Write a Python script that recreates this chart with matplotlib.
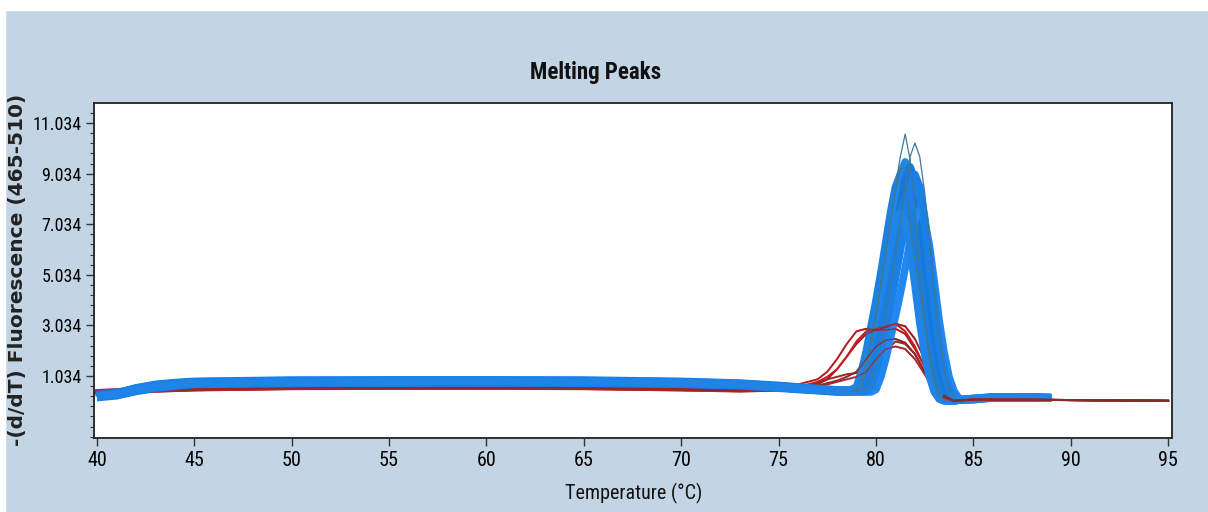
import matplotlib
matplotlib.use("Agg")
import matplotlib.pyplot as plt
from matplotlib.ticker import FixedLocator
import numpy as np

# ---------------- data ----------------
# blue curves: shared temperature grid = base part + peak part + tail part
T_base = [40, 41, 42, 43, 44, 45, 50, 55, 60, 65, 70, 73, 75, 76, 77, 78, 78.5, 78.75]
T_peak = [79, 79.25, 79.5, 79.75, 80, 80.25, 80.5, 80.75, 81, 81.25, 81.5, 81.75,
          82, 82.25, 82.5, 82.75, 83, 83.25, 83.5, 83.75, 84, 84.25, 84.5]
T_tail = [85, 86, 87, 88, 89]

blue_base = [
    [0.25, 0.35, 0.55, 0.68, 0.75, 0.80, 0.85, 0.85, 0.86, 0.85, 0.80, 0.74, 0.64, 0.58, 0.52, 0.48, 0.48, 0.50],
    [0.20, 0.30, 0.50, 0.62, 0.70, 0.76, 0.80, 0.81, 0.82, 0.81, 0.77, 0.70, 0.60, 0.55, 0.50, 0.45, 0.45, 0.45],
    [0.22, 0.28, 0.45, 0.58, 0.66, 0.72, 0.76, 0.77, 0.78, 0.77, 0.73, 0.68, 0.58, 0.52, 0.47, 0.42, 0.42, 0.42],
    [0.18, 0.25, 0.42, 0.55, 0.63, 0.70, 0.74, 0.75, 0.76, 0.75, 0.71, 0.65, 0.55, 0.50, 0.45, 0.40, 0.40, 0.40],
    [0.24, 0.32, 0.50, 0.64, 0.72, 0.78, 0.83, 0.84, 0.84, 0.83, 0.78, 0.72, 0.62, 0.56, 0.50, 0.44, 0.42, 0.40],
    [0.20, 0.28, 0.46, 0.60, 0.68, 0.74, 0.78, 0.79, 0.80, 0.79, 0.75, 0.69, 0.58, 0.52, 0.47, 0.41, 0.42, 0.44],
    [0.26, 0.36, 0.56, 0.70, 0.77, 0.82, 0.87, 0.88, 0.88, 0.87, 0.82, 0.75, 0.66, 0.60, 0.54, 0.48, 0.44, 0.42],
    [0.22, 0.30, 0.48, 0.60, 0.68, 0.74, 0.79, 0.80, 0.81, 0.80, 0.76, 0.70, 0.60, 0.54, 0.48, 0.46, 0.46, 0.48],
]
blue_peak = [
    [0.60, 1.20, 2.00, 3.00, 4.00, 5.10, 6.30, 7.50, 8.50, 9.00, 8.50, 7.30,
     5.60, 3.80, 2.30, 1.20, 0.50, 0.15, 0.05, 0.05, 0.05, 0.08, 0.10],
    [0.45, 0.65, 1.25, 2.10, 3.20, 4.20, 5.40, 6.65, 7.90, 9.00, 9.50, 9.00,
     7.70, 5.90, 4.00, 2.40, 1.25, 0.55, 0.15, 0.05, 0.05, 0.08, 0.10],
    [0.45, 0.45, 0.62, 1.25, 2.05, 3.10, 4.15, 5.30, 6.50, 7.75, 8.80, 9.30,
     8.80, 7.55, 5.80, 3.90, 2.40, 1.25, 0.50, 0.15, 0.05, 0.08, 0.10],
    [0.42, 0.42, 0.42, 0.58, 1.15, 1.90, 2.85, 3.80, 4.90, 6.00, 7.15, 8.10,
     8.60, 8.10, 7.00, 5.35, 3.60, 2.20, 1.15, 0.50, 0.15, 0.08, 0.10],
    [0.40, 0.40, 0.40, 0.40, 0.50, 1.00, 1.70, 2.55, 3.40, 4.30, 5.30, 6.35,
     7.20, 7.60, 7.20, 6.15, 4.70, 3.20, 1.95, 1.00, 0.45, 0.15, 0.10],
    [0.45, 0.55, 1.05, 1.80, 2.65, 3.55, 4.55, 5.60, 6.65, 7.55, 8.00, 7.55,
     6.50, 5.00, 3.40, 2.05, 1.05, 0.45, 0.15, 0.05, 0.05, 0.08, 0.10],
    [0.42, 0.42, 0.45, 0.60, 1.20, 2.00, 3.00, 4.00, 5.10, 6.30, 7.50, 8.50,
     9.00, 8.50, 7.30, 5.60, 3.80, 2.30, 1.20, 0.50, 0.15, 0.08, 0.10],
    [0.50, 1.00, 1.65, 2.50, 3.35, 4.25, 5.25, 6.25, 7.10, 7.50, 7.10, 6.10,
     4.65, 3.15, 1.90, 1.00, 0.40, 0.12, 0.05, 0.05, 0.05, 0.08, 0.10],
]
blue_tail = [
    [0.15, 0.20, 0.20, 0.20, 0.18],
    [0.14, 0.20, 0.20, 0.20, 0.18],
    [0.12, 0.18, 0.18, 0.18, 0.16],
    [0.10, 0.18, 0.18, 0.18, 0.16],
    [0.10, 0.18, 0.18, 0.18, 0.16],
    [0.10, 0.16, 0.16, 0.16, 0.15],
    [0.12, 0.20, 0.20, 0.20, 0.18],
    [0.12, 0.18, 0.18, 0.18, 0.16],
]

# thin dark outline curves (same peak grid)
thin_peak = [
    [0.45, 0.60, 1.20, 2.20, 3.40, 4.60, 5.90, 7.20, 8.50, 9.70, 10.60, 9.60,
     7.60, 5.30, 3.20, 1.70, 0.70, 0.20, 0.05, 0.05, 0.05, 0.08, 0.10],
    [0.42, 0.42, 0.50, 0.90, 1.50, 2.30, 3.40, 4.60, 5.80, 7.20, 8.50, 9.70,
     10.25, 9.70, 8.30, 6.40, 4.30, 2.60, 1.35, 0.55, 0.15, 0.08, 0.10],
    [0.50, 0.90, 1.60, 2.60, 3.60, 4.80, 6.00, 7.20, 8.30, 9.20, 9.30, 6.90,
     5.60, 4.40, 3.10, 1.90, 1.00, 0.40, 0.10, 0.05, 0.05, 0.08, 0.10],
]

# red curves
T_red = [40, 41, 42, 43, 45, 50, 55, 60, 65, 70, 73, 75,
         76, 77, 77.5, 78, 78.5, 79, 79.5, 80, 80.5, 81, 81.5, 82, 82.5, 83, 83.5, 84,
         85, 87, 90, 95]
red_curves = [
    [0.30, 0.35, 0.40, 0.45, 0.50, 0.55, 0.56, 0.56, 0.55, 0.50, 0.45, 0.50,
     0.70, 0.90, 1.20, 1.70, 2.30, 2.80, 2.90, 2.85, 2.85, 2.90, 2.70, 2.10, 1.40, 0.70, 0.20, 0.05,
     0.10, 0.10, 0.08, 0.05],
    [0.30, 0.34, 0.38, 0.43, 0.48, 0.53, 0.54, 0.54, 0.53, 0.48, 0.44, 0.48,
     0.60, 0.75, 0.90, 1.30, 1.80, 2.30, 2.70, 2.85, 2.95, 3.10, 3.00, 2.50, 1.70, 0.80, 0.25, 0.05,
     0.10, 0.10, 0.08, 0.05],
    [0.28, 0.33, 0.38, 0.42, 0.47, 0.52, 0.53, 0.53, 0.52, 0.47, 0.43, 0.46,
     0.55, 0.65, 0.75, 0.85, 1.00, 1.20, 1.70, 2.20, 2.45, 2.50, 2.35, 1.90, 1.20, 0.60, 0.20, 0.05,
     0.10, 0.10, 0.08, 0.05],
    [0.28, 0.32, 0.37, 0.41, 0.46, 0.51, 0.52, 0.52, 0.51, 0.46, 0.42, 0.45,
     0.55, 0.60, 0.70, 0.80, 0.90, 1.00, 1.20, 1.70, 2.10, 2.20, 2.10, 1.70, 1.10, 0.50, 0.15, 0.05,
     0.10, 0.10, 0.08, 0.05],
    [0.30, 0.35, 0.40, 0.45, 0.50, 0.55, 0.56, 0.56, 0.55, 0.50, 0.45, 0.50,
     0.60, 0.80, 1.00, 1.30, 1.80, 2.40, 2.80, 2.90, 3.00, 3.10, 2.80, 2.20, 1.40, 0.60, 0.15, 0.05,
     0.10, 0.10, 0.08, 0.05],
    [0.30, 0.35, 0.40, 0.45, 0.50, 0.55, 0.56, 0.56, 0.55, 0.50, 0.45, 0.50,
     0.60, 0.70, 0.90, 1.00, 1.10, 1.15, 1.20, 1.50, 2.00, 2.40, 2.30, 1.90, 1.20, 0.50, 0.10, 0.05,
     0.10, 0.10, 0.08, 0.05],
]

y_ticks = [1.034, 3.034, 5.034, 7.034, 9.034, 11.034]
y_tick_labels = ["1.034", "3.034", "5.034", "7.034", "9.034", "11.034"]
x_ticks = [40, 45, 50, 55, 60, 65, 70, 75, 80, 85, 90, 95]

# ---------------- figure ----------------
BG = "#c3d5e5"
narrow = ["Liberation Sans Narrow", "DejaVu Sans Condensed", "Roboto Condensed",
          "Liberation Sans", "DejaVu Sans"]

fig = plt.figure(figsize=(12.08, 5.12), dpi=100, facecolor=BG)
fig.patches.append(plt.Rectangle((0, 1 - 10 / 512), 1, 10 / 512, transform=fig.transFigure,
                                 color="white", zorder=0))
fig.patches.append(plt.Rectangle((0, 0), 5 / 1208, 1, transform=fig.transFigure,
                                 color="white", zorder=0))

ax = fig.add_axes([94 / 1208, 1 - 438 / 512, (1172 - 94) / 1208, (438 - 103) / 512])
ax.set_facecolor("white")

T_blue = T_base + T_peak + T_tail

red_colors = ["#b8181d", "#9c1f24", "#8b2a2a", "#a82a2e", "#c41e22", "#962626"]
for i, vals in enumerate(red_curves):
    ax.plot(T_red, vals, color=red_colors[i], lw=1.4, zorder=3)

# pink / purple tinted baseline strands
ax.plot(T_red[:12], [v + 0.02 for v in red_curves[0][:12]], color="#e59a9a", lw=3.5, zorder=2)
ax.plot(T_red[:12], [v + 0.12 for v in red_curves[1][:12]], color="#7d3a86", lw=3.5, zorder=2)

blue_cols = ["#1a80e6", "#1f86ea", "#1579dc", "#1a80e6", "#2288ee", "#1a7de2", "#1a80e6", "#1f84e8"]
for i in range(len(blue_peak)):
    vals = blue_base[i] + blue_peak[i] + blue_tail[i]
    ax.plot(T_blue, vals, color=blue_cols[i], lw=5.5, solid_joinstyle="round",
            solid_capstyle="butt", zorder=4)

thin_T = T_base[-1:] + T_peak
for vals in thin_peak:
    ax.plot(thin_T, [0.45] + vals, color="#3d7a92", lw=0.9, zorder=5)

# red parts visible over the blue
for i, vals in enumerate(red_curves[:5]):
    ax.plot(T_red[17:24], vals[17:24], color=red_colors[i], lw=1.0, alpha=0.85, zorder=6)
for i, vals in enumerate(red_curves[:3]):
    ax.plot(T_red[26:], vals[26:], color=red_colors[i], lw=1.5, zorder=6)

ax.set_xlim(39.85, 95.2)
ax.set_ylim(-1.42, 11.83)

ax.xaxis.set_major_locator(FixedLocator(x_ticks))
ax.set_xticklabels([str(t) for t in x_ticks], family=narrow, fontsize=14.5)
ax.yaxis.set_major_locator(FixedLocator(y_ticks))
ax.set_yticklabels(y_tick_labels, family=narrow, fontsize=13)
ax.yaxis.set_minor_locator(FixedLocator(list(np.arange(-1.366, 11.8, 0.4))))

ax.tick_params(axis="both", which="major", length=6, width=1, color="#333333", pad=3)
ax.tick_params(axis="y", which="minor", length=3, width=0.8, color="#333333")

for s in ax.spines.values():
    s.set_color("#222222")
    s.set_linewidth(1.3)

fig.text(596 / 1208, 1 - 73 / 512, "Melting Peaks", ha="center", va="center",
         family=narrow, fontsize=16.5, fontweight="bold", color="#111111")
fig.text(634 / 1208, 1 - 493 / 512, "Temperature (°C)", ha="center", va="center",
         family=narrow, fontsize=14.5, color="#111111")
fig.text(18 / 1208, 1 - 270 / 512, "-(d/dT) Fluorescence (465-510)", ha="center", va="center",
         rotation=90, fontsize=14.5, fontweight="bold", color="#222222")

fig.savefig("out.png", dpi=100, facecolor=BG)
